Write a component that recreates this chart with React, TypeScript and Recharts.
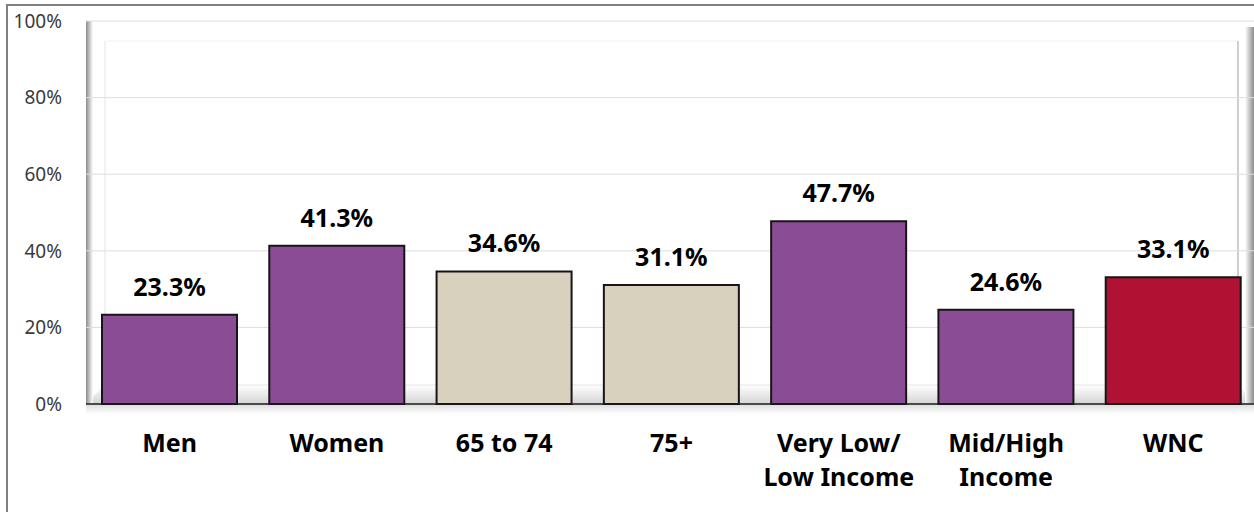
import React from "react";
import {
  BarChart,
  Bar,
  XAxis,
  YAxis,
  CartesianGrid,
  LabelList,
  Cell,
} from "recharts";

// category labels (split into lines for the axis)
const categories = [
  "Men",
  "Women",
  "65 to 74",
  "75+",
  "Very Low/\nLow Income",
  "Mid/High\nIncome",
  "WNC",
];
const values = [23.3, 41.3, 34.6, 31.1, 47.7, 24.6, 33.1];
const yTicks = [0, 20, 40, 60, 80, 100];

const PURPLE = "#8b4c96";
const BEIGE = "#d8d1be";
const RED = "#af1232";
const barColors = [PURPLE, PURPLE, BEIGE, BEIGE, PURPLE, PURPLE, RED];

const data = categories.map((name, i) => ({ name, value: values[i] }));

const FONT = "'Noto Sans', 'Open Sans', sans-serif";

function CategoryTick(props: any) {
  const { x, y, payload } = props;
  const lines = String(payload.value).split("\n");
  return (
    <text
      x={x}
      y={y}
      textAnchor="middle"
      fill="#000"
      fontFamily={FONT}
      fontWeight={700}
      fontSize={25}
    >
      {lines.map((line, i) => (
        <tspan key={i} x={x} dy={i === 0 ? 40 : 34}>
          {line}
        </tspan>
      ))}
    </text>
  );
}

function Backdrop() {
  return (
    <svg
      width={1254}
      height={512}
      style={{ position: "absolute", left: 0, top: 0 }}
    >
      <defs>
        <linearGradient id="leftWall" x1="0" x2="1" y1="0" y2="0">
          <stop offset="0%" stopColor="#8c8c8c" />
          <stop offset="100%" stopColor="#ffffff" />
        </linearGradient>
        <linearGradient id="rightWall" x1="0" x2="1" y1="0" y2="0">
          <stop offset="0%" stopColor="#ffffff" />
          <stop offset="100%" stopColor="#8c8c8c" />
        </linearGradient>
        <linearGradient id="floor" x1="0" x2="0" y1="0" y2="1">
          <stop offset="0%" stopColor="#ffffff" />
          <stop offset="100%" stopColor="#d4d4d4" />
        </linearGradient>
        <linearGradient id="shadow" x1="0" x2="0" y1="0" y2="1">
          <stop offset="0%" stopColor="#dcdcdc" />
          <stop offset="100%" stopColor="#ffffff" />
        </linearGradient>
      </defs>
      <rect x={0} y={0} width={1254} height={512} fill="#fff" />
      {/* outer frame */}
      <rect
        x={7}
        y={5}
        width={1300}
        height={600}
        fill="none"
        stroke="#808080"
        strokeWidth={2}
      />
      {/* floor */}
      <polygon points="86,404 104,385 1238,385 1256,404" fill="url(#floor)" />
      <rect x={86} y={404} width={1170} height={10} fill="url(#shadow)" />
      {/* walls */}
      <rect x={86} y={21} width={7} height={383} fill="url(#leftWall)" />
      <rect x={1245} y={27} width={9} height={377} fill="url(#rightWall)" />
      <line x1={105} y1={41} x2={105} y2={385} stroke="#e4e4e4" />
      <line x1={105} y1={41} x2={1238} y2={41} stroke="#f0f0f0" />
      <line x1={1238} y1={41} x2={1238} y2={385} stroke="#bdbdbd" strokeWidth={1.5} />
      <line x1={105} y1={385} x2={1238} y2={385} stroke="#e4e4e4" />
    </svg>
  );
}

export default function App() {
  return (
    <div
      style={{
        position: "absolute",
        left: 0,
        top: 0,
        width: 1254,
        height: 512,
        overflow: "hidden",
        background: "#fff",
      }}
    >
      <Backdrop />
      <div style={{ position: "absolute", left: 0, top: 0 }}>
        <BarChart
          width={1260}
          height={512}
          data={data}
          margin={{ top: 21, right: 3, bottom: 0, left: 0 }}
        >
          <CartesianGrid vertical={false} stroke="#dedede" />
          <XAxis
            dataKey="name"
            height={108}
            tickLine={false}
            axisLine={{ stroke: "#1a1a1a", strokeWidth: 1.5 }}
            interval={0}
            tick={<CategoryTick />}
          />
          <YAxis
            width={86}
            domain={[0, 100]}
            ticks={yTicks}
            tickFormatter={(v: number) => `${v}%`}
            axisLine={false}
            tickLine={false}
            tickMargin={18}
            tick={{ fill: "#3a3a3a", fontSize: 19, fontFamily: FONT }}
          />
          <Bar
            dataKey="value"
            barSize={135}
            stroke="#161616"
            strokeWidth={2}
            isAnimationActive={false}
          >
            {data.map((d, i) => (
              <Cell key={d.name} fill={barColors[i]} />
            ))}
            <LabelList
              dataKey="value"
              position="top"
              offset={19}
              formatter={(v: any) => `${Number(v).toFixed(1)}%`}
              style={{
                fill: "#000",
                fontFamily: FONT,
                fontWeight: 700,
                fontSize: 25,
              }}
            />
          </Bar>
        </BarChart>
      </div>
    </div>
  );
}
